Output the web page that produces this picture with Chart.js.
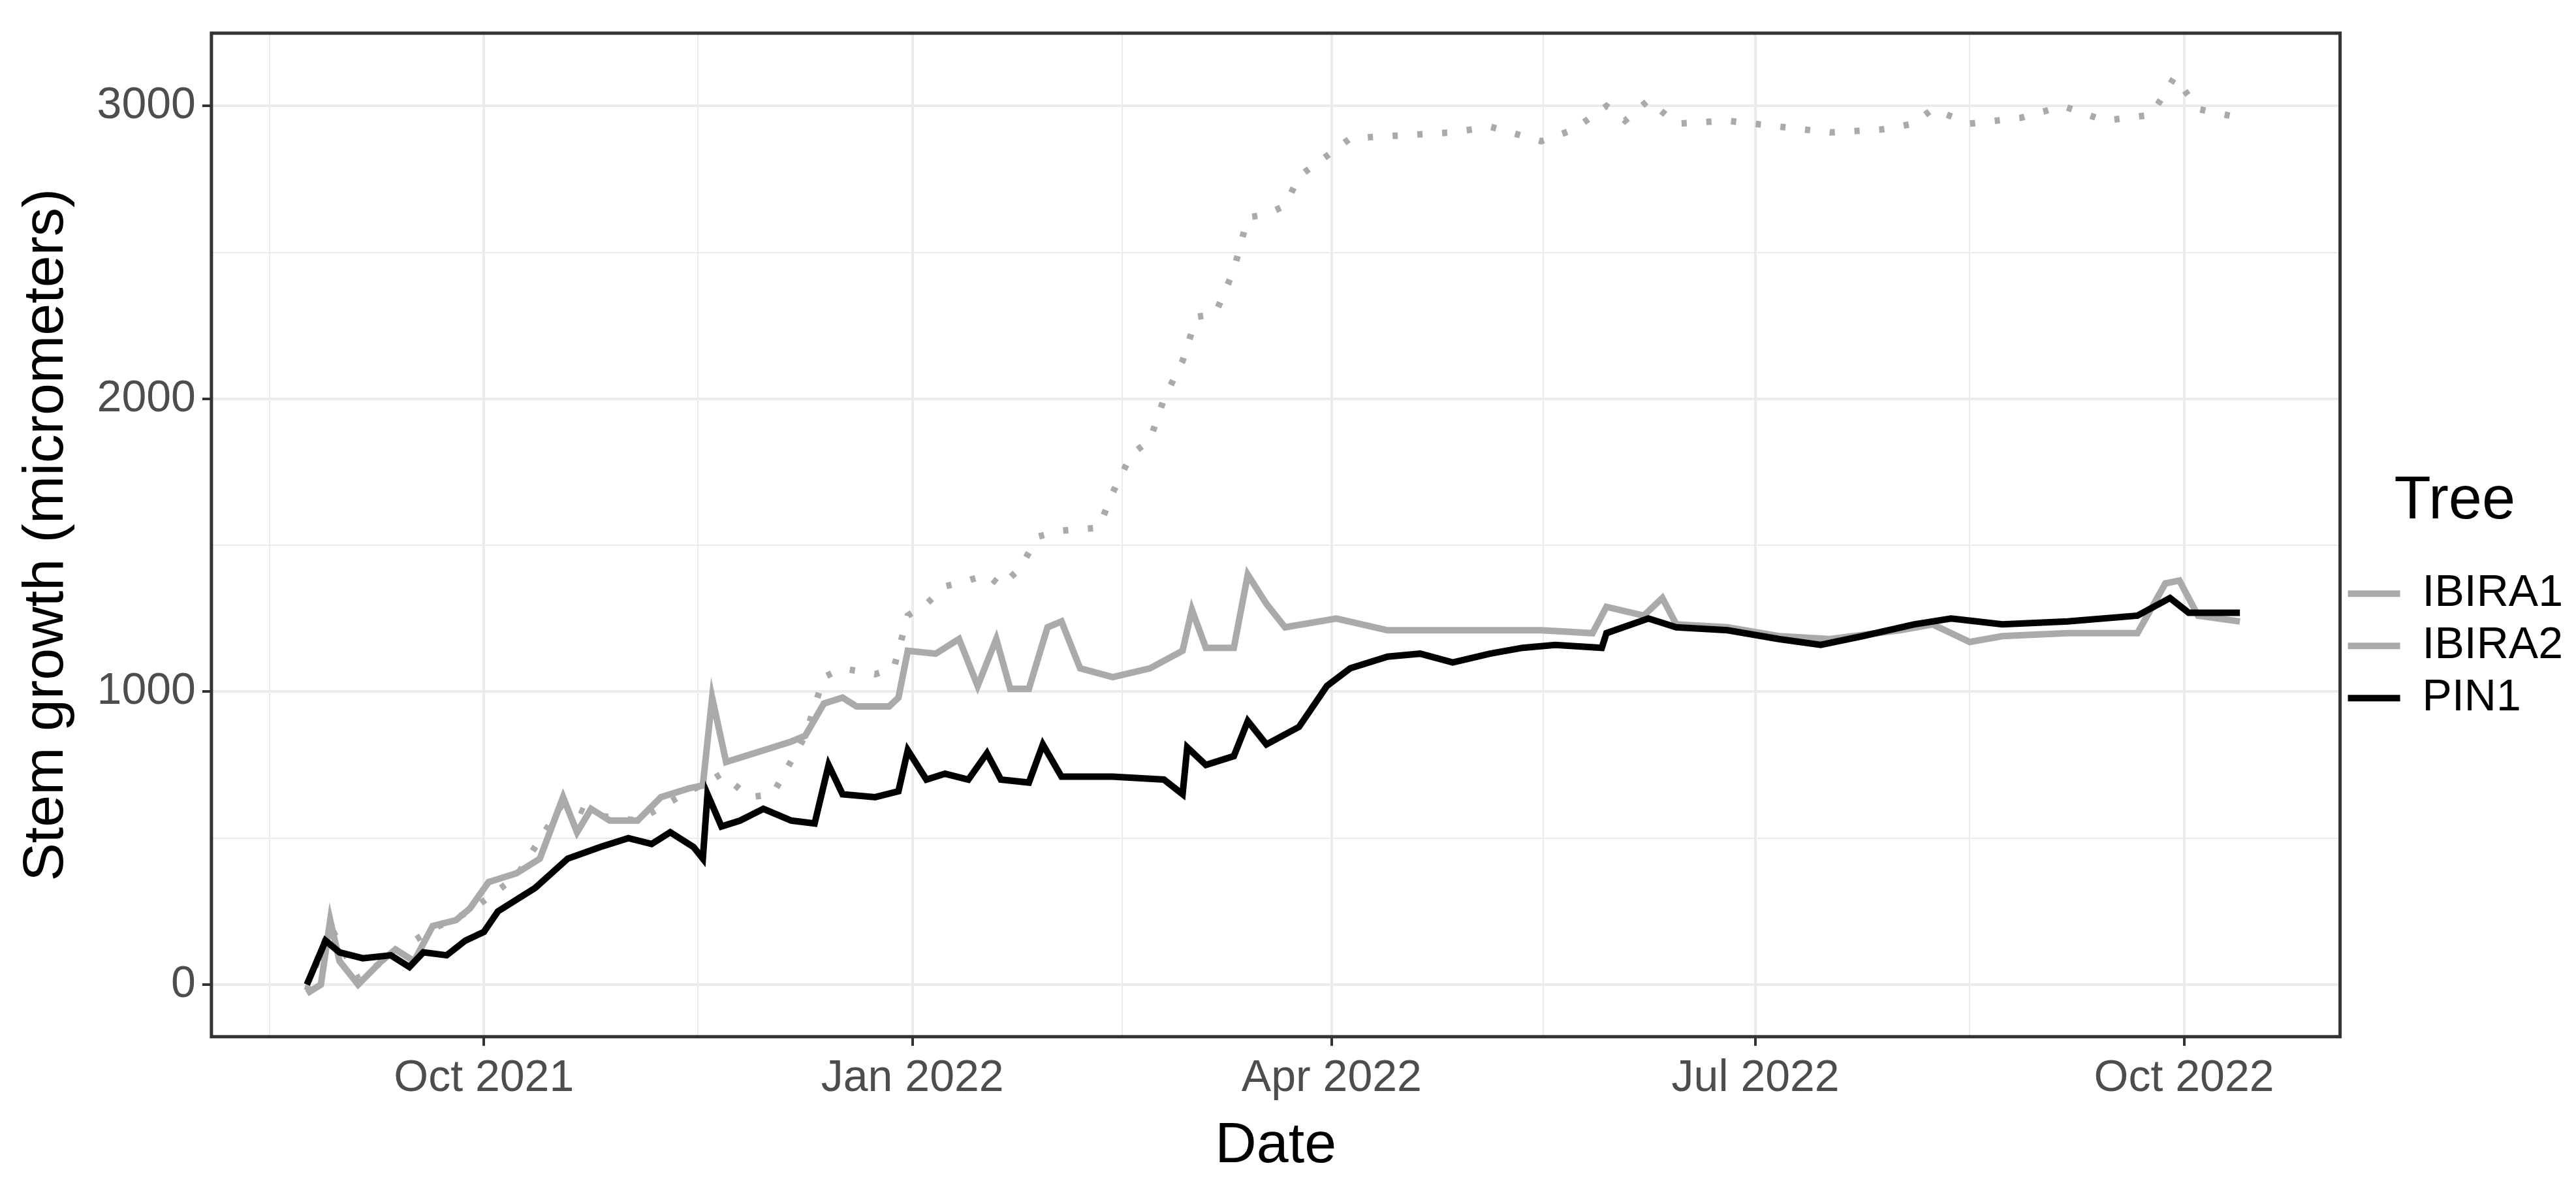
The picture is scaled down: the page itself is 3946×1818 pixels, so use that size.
<!DOCTYPE html>
<html>
<head>
<meta charset="utf-8">
<script src="https://cdn.jsdelivr.net/npm/chart.js@4/dist/chart.umd.min.js"></script>
<style>
html, body { margin: 0; padding: 0; background: #fff; }
#wrap { width: 3946px; height: 1818px; }
</style>
</head>
<body>
<div id="wrap"><canvas id="chart"></canvas></div>
<script>
// x values are days since 1 Oct 2021
var pinDays = [-38,-34,-31,-26,-20,-16,-13,-8,-4,0,3,11,18,25,31,36,40,45,47,48,51,55,60,66,71,74,77,84,89,91,95,99,104,108,111,117,120,124,135,146,150,151,155,161,164,168,175,181,186,194,201,208,216,223,230,240,241,250,256,267,278,287,296,307,315,326,340,355,362,366,377];
var pinVals = [0,150,110,90,100,60,110,100,150,180,250,330,430,470,500,480,520,470,430,650,540,560,600,560,550,750,650,640,660,800,700,720,700,790,700,690,820,710,710,700,650,810,750,780,900,820,880,1020,1080,1120,1130,1100,1130,1150,1160,1150,1200,1250,1220,1210,1180,1160,1190,1230,1250,1230,1240,1260,1320,1270,1270];

var ibira1Days = [-38,-35,-33,-31,-27,-22,-19,-15,-11,-6,-3,1,7,12,17,20,23,27,33,38,44,47,49,52,60,66,69,73,77,80,87,89,91,97,102,106,110,113,117,121,124,128,135,143,150,152,155,161,164,168,172,183,194,205,216,227,238,241,249,253,256,267,278,289,304,311,319,326,340,355,361,364,368,377];
var ibira1Vals = [-30,0,220,80,0,80,120,80,200,220,260,350,380,430,640,520,600,560,560,640,670,680,980,760,800,830,850,960,980,950,950,980,1140,1130,1180,1020,1180,1010,1010,1220,1240,1080,1050,1080,1140,1280,1150,1150,1400,1300,1220,1250,1210,1210,1210,1210,1200,1290,1260,1320,1230,1220,1190,1180,1210,1230,1170,1190,1200,1200,1370,1380,1260,1240];

var ibira2Days = [-38,-33,-27,-19,-11,-3,7,17,23,33,44,48,51,57,62,69,73,77,84,88,91,95,99,104,108,111,115,119,124,132,135,139,143,146,150,153,157,161,164,168,172,175,181,186,197,208,216,227,234,241,245,250,256,267,278,289,300,307,311,319,330,339,348,358,363,368,377];
var ibira2Vals = [-20,200,20,110,190,250,370,620,580,560,660,690,720,640,650,850,1050,1080,1060,1080,1260,1300,1360,1380,1400,1360,1420,1530,1550,1560,1680,1810,1860,2000,2130,2280,2290,2440,2620,2630,2660,2760,2830,2890,2900,2910,2930,2880,2920,3000,2950,3020,2940,2950,2930,2910,2920,2940,2990,2940,2960,3000,2950,2970,3100,2990,2960];

var majorTicks = [0, 92, 182, 273, 365];
var majorLabels = ['Oct 2021', 'Jan 2022', 'Apr 2022', 'Jul 2022', 'Oct 2022'];
var minorTicks = [-46, 46, 137, 227.5, 319];

function toPoints(days, vals) {
	var pts = [];
	for (var i = 0; i < days.length; i++) {
		pts.push({x: days[i], y: vals[i]});
	}
	return pts;
}

var panelBorder = {
	id: 'panelBorder',
	afterDraw: function(chart) {
		var a = chart.chartArea, ctx = chart.ctx;
		ctx.save();
		ctx.strokeStyle = '#333333';
		ctx.lineWidth = 5;
		ctx.strokeRect(a.left, a.top, a.right - a.left, a.bottom - a.top);
		ctx.restore();
	}
};

var ctx = document.getElementById('chart').getContext('2d');
var chart = new Chart(ctx, {
	type: 'line',
	data: {
		datasets: [
			{label: 'IBIRA1', data: toPoints(ibira1Days, ibira1Vals), borderColor: '#aaaaaa', backgroundColor: '#aaaaaa', borderWidth: 10, pointRadius: 0, order: 2},
			{label: 'IBIRA2', data: toPoints(ibira2Days, ibira2Vals), borderColor: '#aaaaaa', backgroundColor: '#aaaaaa', borderWidth: 10, borderDash: [8, 30], pointRadius: 0, order: 3},
			{label: 'PIN1', data: toPoints(pinDays, pinVals), borderColor: '#000000', backgroundColor: '#000000', borderWidth: 10, pointRadius: 0, order: 1}
		]
	},
	options: {
		responsive: true,
		maintainAspectRatio: false,
		animation: false,
		devicePixelRatio: 1,
		layout: {padding: {top: 25, right: 10, bottom: 5, left: 15}},
		plugins: {
			legend: {
				position: 'right',
				align: 'center',
				title: {display: true, text: 'Tree', color: '#000', font: {family: 'Liberation Sans', size: 92}, padding: {top: 0, bottom: 30}},
				labels: {
					usePointStyle: true,
					pointStyle: 'line',
					pointStyleWidth: 80,
					color: '#000',
					font: {family: 'Liberation Sans', size: 68},
					padding: 12,
					boxWidth: 80,
					sort: function(a, b) { return a.datasetIndex - b.datasetIndex; }
				}
			},
			tooltip: {enabled: false}
		},
		scales: {
			x: {
				type: 'linear',
				min: -58.5,
				max: 398.5,
				afterBuildTicks: function(axis) {
					var t = majorTicks.concat(minorTicks).sort(function(a, b) { return a - b; });
					axis.ticks = t.map(function(v) { return {value: v}; });
				},
				ticks: {
					autoSkip: false,
					maxRotation: 0,
					color: '#4d4d4d',
					font: {family: 'Liberation Sans', size: 68},
					padding: 10,
					callback: function(v) {
						var i = majorTicks.indexOf(v);
						return i >= 0 ? majorLabels[i] : '';
					}
				},
				grid: {
					color: '#ebebeb',
					lineWidth: function(c) { return majorTicks.indexOf(c.tick.value) >= 0 ? 4 : 2; },
					tickColor: function(c) { return majorTicks.indexOf(c.tick.value) >= 0 ? '#333333' : 'rgba(0,0,0,0)'; },
					tickLength: 14,
					tickWidth: 4
				},
				border: {display: false},
				title: {display: true, text: 'Date', color: '#000', font: {family: 'Liberation Sans', size: 88}, padding: {top: 0}}
			},
			y: {
				min: -178,
				max: 3249,
				afterBuildTicks: function(axis) {
					axis.ticks = [0, 500, 1000, 1500, 2000, 2500, 3000].map(function(v) { return {value: v}; });
				},
				ticks: {
					color: '#4d4d4d',
					font: {family: 'Liberation Sans', size: 68},
					padding: 10,
					callback: function(v) { return v % 1000 === 0 ? String(v) : ''; }
				},
				grid: {
					color: '#ebebeb',
					lineWidth: function(c) { return c.tick.value % 1000 === 0 ? 4 : 2; },
					tickColor: function(c) { return c.tick.value % 1000 === 0 ? '#333333' : 'rgba(0,0,0,0)'; },
					tickLength: 14,
					tickWidth: 4
				},
				border: {display: false},
				title: {display: true, text: 'Stem growth (micrometers)', color: '#000', font: {family: 'Liberation Sans', size: 88}, padding: {bottom: 14}}
			}
		}
	},
	plugins: [panelBorder]
});
</script>
</body>
</html>
